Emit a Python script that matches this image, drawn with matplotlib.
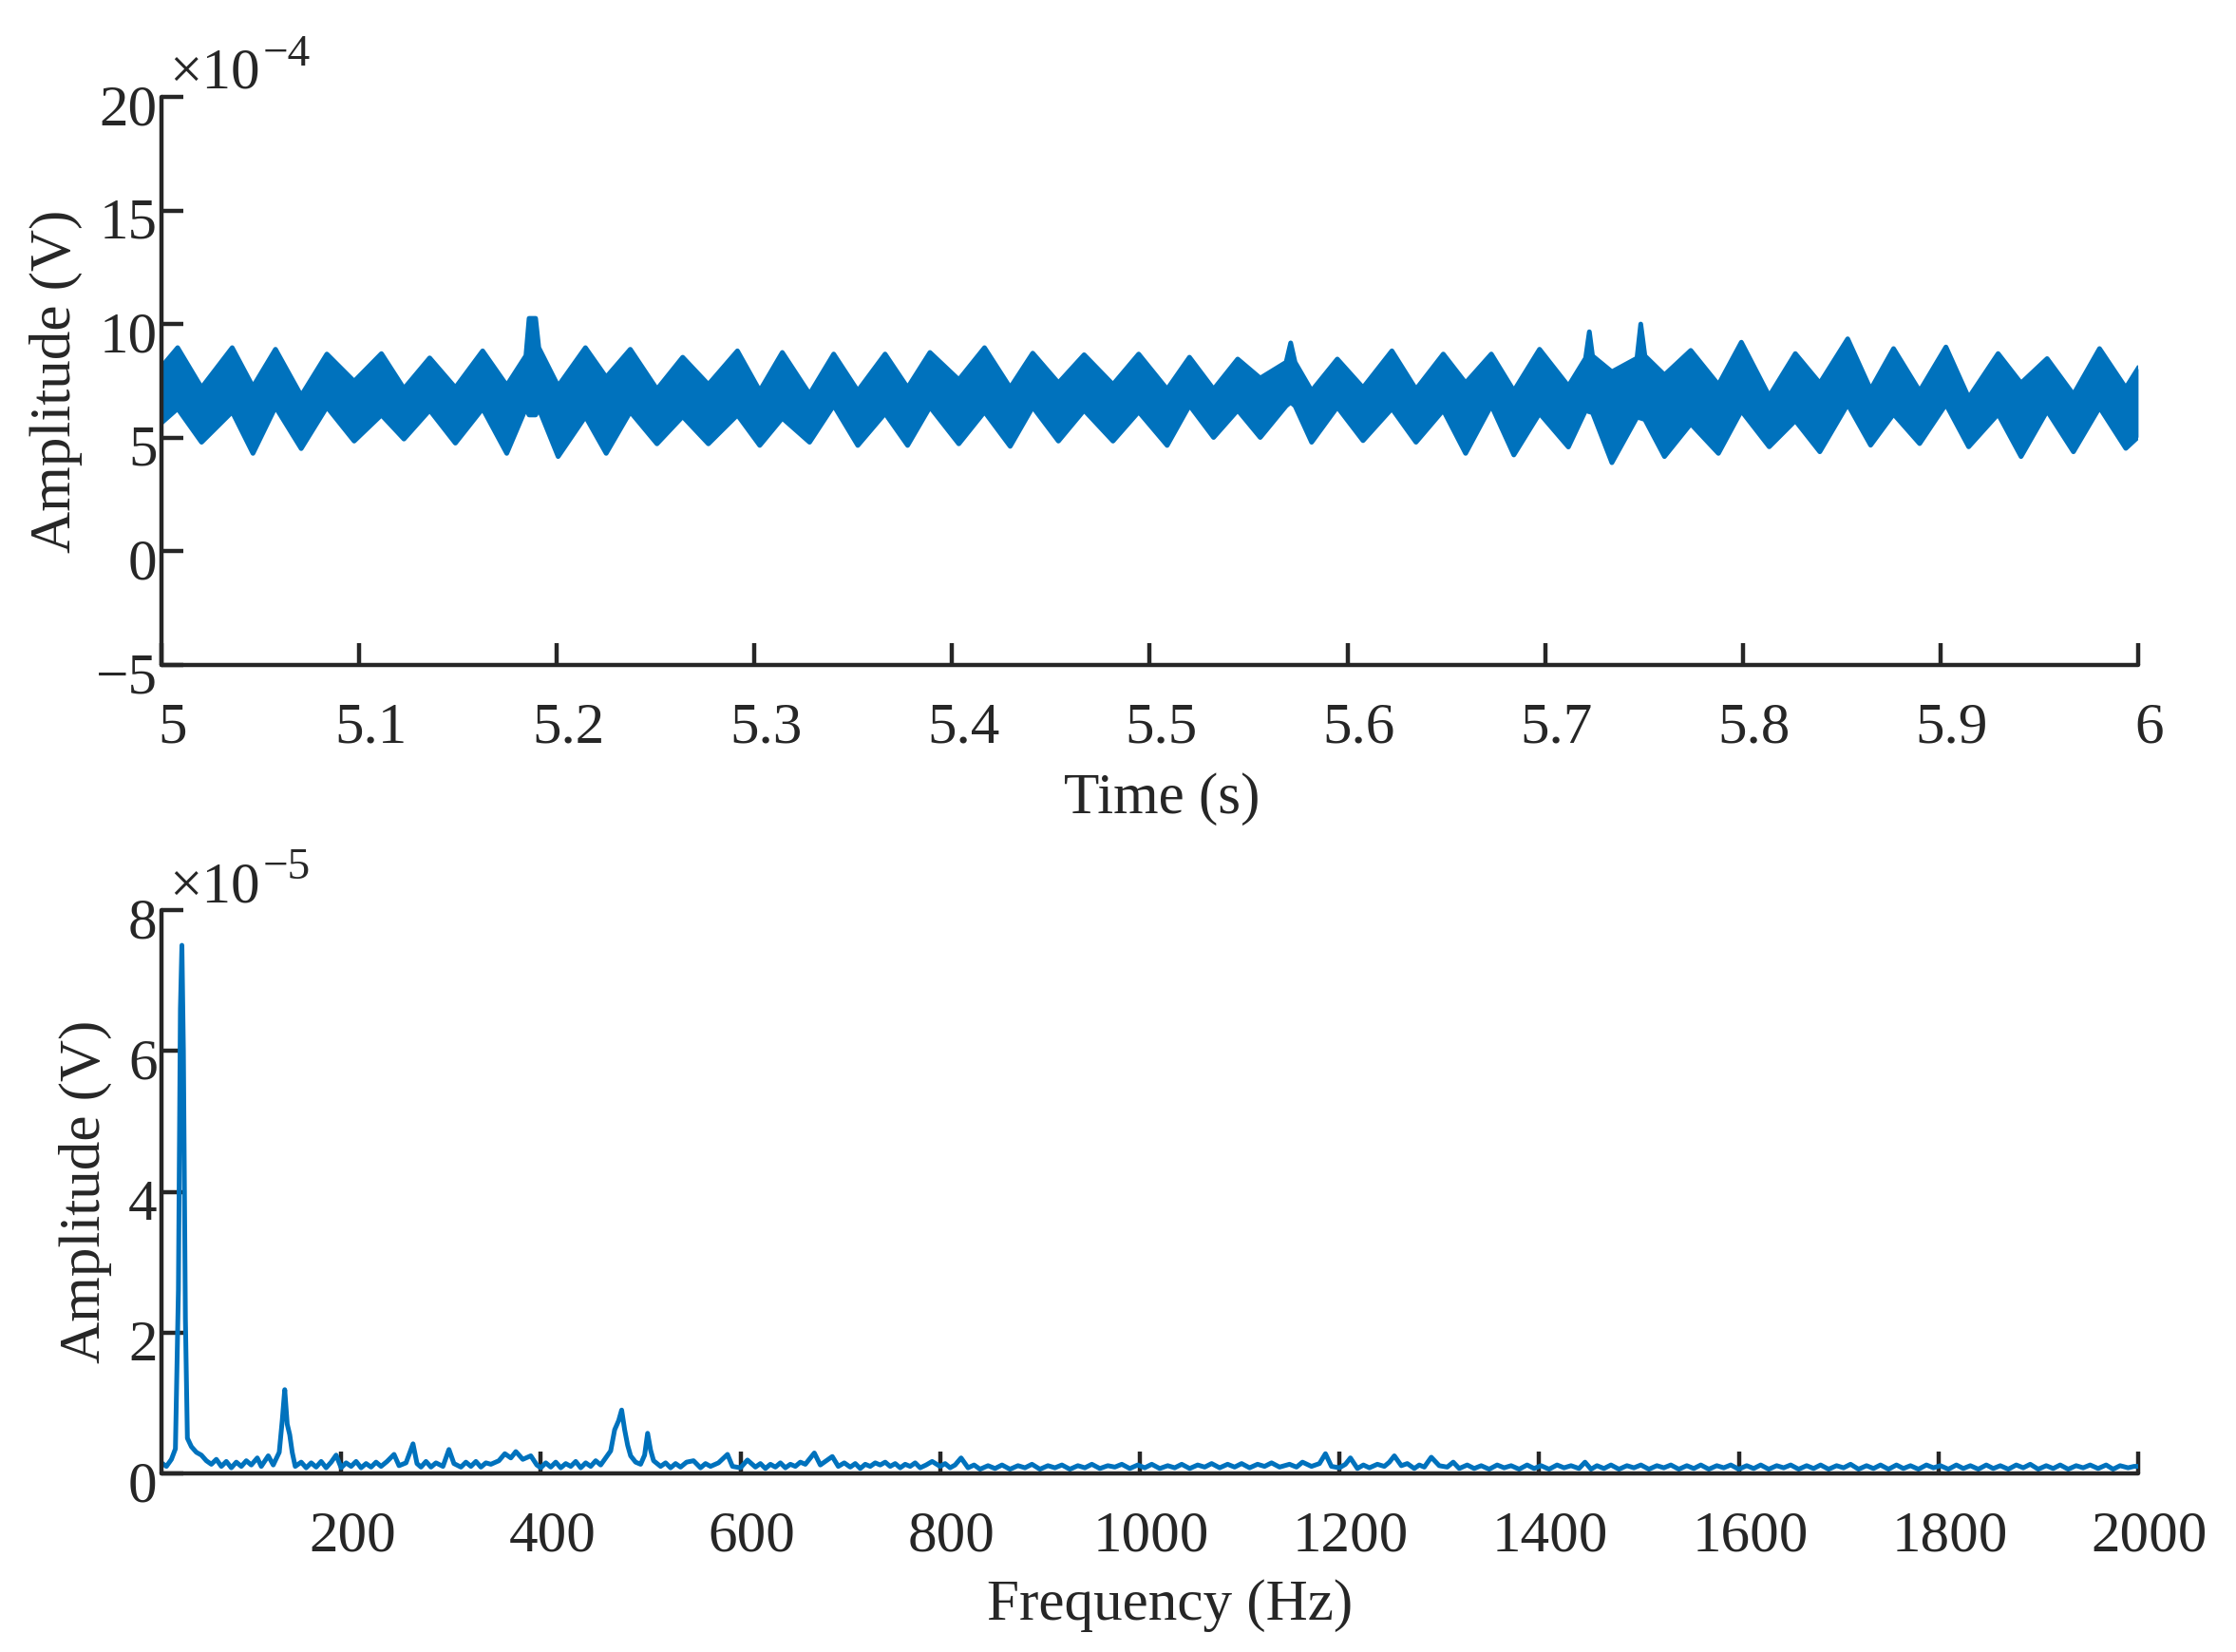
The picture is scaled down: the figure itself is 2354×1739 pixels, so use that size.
import matplotlib
matplotlib.use("Agg")
import matplotlib.pyplot as plt
from matplotlib.transforms import ScaledTranslation

# Top: time signal, band (units of 1e-4 V)
# time (s), upper edge, lower edge of the plotted band
t_s = [5.0000, 5.0082, 5.0203, 5.0358, 5.0463, 5.0577, 5.0707, 5.0837, 5.0975, 5.1113,
       5.1227, 5.1357, 5.1487, 5.1625, 5.1747, 5.1844, 5.1860, 5.1893, 5.1909, 5.2007,
       5.2145, 5.2250, 5.2372,
       5.2507, 5.2637, 5.2767, 5.2914, 5.3027, 5.3141, 5.3279, 5.3401, 5.3523, 5.3661,
       5.3775, 5.3888, 5.4034, 5.4164, 5.4294, 5.4408, 5.4538, 5.4668, 5.4814, 5.4944,
       5.5088, 5.5201, 5.5323, 5.5445, 5.5559, 5.5690, 5.5713, 5.5735, 5.5819, 5.5949,
       5.6079, 5.6225, 5.6347, 5.6485, 5.6598, 5.6728, 5.6842, 5.6972, 5.7118, 5.7205,
       5.7224, 5.7240, 5.7338, 5.7465, 5.7484, 5.7505,
       5.7604, 5.7737, 5.7877, 5.7993, 5.8134, 5.8266, 5.8390, 5.8531, 5.8647, 5.8763,
       5.8895, 5.9028, 5.9143, 5.9292, 5.9408, 5.9540, 5.9673, 5.9805, 5.9938, 6.0000]
upper_e4 = [8.11, 8.96, 7.20, 8.96, 7.24, 8.89, 6.85, 8.68, 7.48, 8.70,
            7.16, 8.51, 7.20, 8.82, 7.30, 8.61, 10.25, 10.25, 8.96, 7.27,
            8.96, 7.66, 8.89,
            7.13, 8.54, 7.34, 8.82, 7.06, 8.75, 6.92, 8.68, 7.06, 8.68,
            7.20, 8.75, 7.55, 8.96, 7.20, 8.72, 7.41, 8.65, 7.34, 8.68,
            7.13, 8.54, 7.13, 8.46, 7.62, 8.32, 9.17, 8.32, 7.06, 8.46,
            7.20, 8.82, 7.13, 8.68, 7.41, 8.68, 7.06, 8.89, 7.27, 8.50,
            9.66, 8.60, 7.90, 8.50, 10.00, 8.60,
            7.76, 8.84, 7.33, 9.20, 6.83, 8.70, 7.40, 9.35, 7.12, 8.92,
            7.05, 8.99, 6.76, 8.70, 7.40, 8.48, 6.90, 8.92, 7.19, 8.05]
lower_e4 = [5.65, 6.28, 4.80, 6.14, 4.31, 6.35, 4.52, 6.35, 4.85, 6.00,
            4.94, 6.21, 4.76, 6.28, 4.31, 6.30, 6.00, 6.00, 6.28, 4.17,
            5.93, 4.31, 6.14,
            4.73, 5.93, 4.73, 6.00, 4.66, 5.86, 4.80, 6.42, 4.66, 6.07,
            4.66, 6.35, 4.73, 6.14, 4.62, 6.35, 4.85, 6.21, 4.85, 6.14,
            4.66, 6.42, 5.01, 6.21, 5.01, 6.40, 6.56, 6.40, 4.80, 6.35,
            4.87, 6.28, 4.80, 6.21, 4.31, 6.42, 4.24, 6.07, 4.59, 6.20,
            6.14, 6.10, 3.90, 5.90, 5.86, 5.80,
            4.17, 5.61, 4.31, 6.18, 4.60, 5.75, 4.38, 6.47, 4.67, 6.04,
            4.74, 6.47, 4.60, 6.04, 4.17, 6.18, 4.38, 6.33, 4.53, 5.03]

# Bottom: spectrum, (frequency Hz, amplitude in 1e-5 V)
spectrum_pts = [
    (20, .15), (25, .10), (30, .20), (34, .35), (37, 2.6), (39, 6.6), (40.5, 7.5), (42, 6.0),
    (44, 2.2), (46, .50), (50, .38), (55, .30), (60, .26), (65, .18), (70, .13), (75, .20),
    (80, .10), (85, .17), (90, .08), (95, .16), (100, .10), (105, .18), (110, .12), (116, .22),
    (120, .10), (127, .25), (132, .12), (138, .30), (141, .75), (143.5, 1.19), (146, .70),
    (148.5, .55), (151, .30), (154, .10), (160, .16), (165, .08), (170, .15), (175, .09),
    (180, .17), (185, .08), (190, .16), (195, .26), (200, .08), (205, .15), (210, .10),
    (215, .17), (220, .08), (225, .14), (230, .09), (235, .16), (240, .10), (246, .17),
    (253, .27), (258, .11), (265, .15), (272, .42), (276, .14), (280, .09), (285, .17),
    (290, .09), (295, .15), (302, .10), (308, .34), (313, .14), (320, .09), (325, .16),
    (330, .10), (335, .17), (340, .09), (345, .15), (350, .13), (358, .18), (364, .28),
    (370, .22), (375, .31), (382, .20), (390, .25), (396, .12), (400, .08), (405, .15),
    (410, .09), (415, .16), (420, .08), (425, .14), (430, .10), (435, .17), (440, .08),
    (445, .15), (450, .10), (455, .18), (460, .12), (465, .22), (470, .32), (474, .62),
    (478, .75), (481, .90), (484, .62), (487, .40), (490, .25), (495, .16), (500, .13),
    (504, .26), (507, .57), (510, .33), (513, .18), (520, .10), (525, .15), (530, .08),
    (535, .14), (540, .09), (546, .16), (553, .18), (560, .08), (565, .14), (570, .10),
    (578, .15), (587, .27), (592, .10), (600, .08), (607, .19), (615, .09), (620, .14),
    (625, .07), (630, .13), (635, .09), (640, .15), (645, .08), (650, .13), (655, .10),
    (660, .16), (665, .13), (674, .29), (680, .12), (686, .18), (692, .24), (698, .10),
    (704, .15), (710, .09), (715, .14), (720, .07), (725, .13), (730, .10), (735, .15),
    (740, .12), (745, .16), (750, .10), (755, .14), (760, .08), (765, .13), (770, .10),
    (775, .15), (780, .08), (786, .12), (792, .17), (800, .10), (805, .14), (810, .08),
    (815, .12), (821, .22), (828, .08), (834, .12), (840, .06), (848, .11), (855, .07),
    (862, .12), (870, .06), (878, .11), (885, .08), (892, .13), (900, .06), (908, .11),
    (915, .08), (922, .12), (930, .06), (938, .11), (945, .08), (952, .13), (960, .07),
    (968, .11), (975, .09), (982, .13), (990, .07), (998, .12), (1005, .08), (1012, .13),
    (1020, .07), (1028, .11), (1035, .08), (1042, .13), (1050, .07), (1058, .12),
    (1065, .09), (1072, .14), (1080, .08), (1088, .13), (1095, .09), (1102, .14),
    (1110, .08), (1118, .13), (1125, .10), (1132, .15), (1140, .09), (1150, .13),
    (1157, .09), (1163, .16), (1172, .10), (1180, .14), (1186, .28), (1192, .10),
    (1200, .08), (1206, .13), (1211, .22), (1218, .07), (1224, .12), (1230, .08),
    (1238, .13), (1245, .10), (1250, .16), (1255, .25), (1262, .11), (1268, .14),
    (1275, .07), (1280, .12), (1285, .09), (1292, .23), (1300, .11), (1308, .09),
    (1314, .16), (1320, .07), (1328, .12), (1335, .07), (1342, .11), (1350, .06),
    (1358, .12), (1365, .08), (1372, .11), (1380, .06), (1388, .12), (1395, .07),
    (1402, .11), (1410, .06), (1418, .12), (1425, .08), (1432, .11), (1440, .07),
    (1446, .16), (1452, .06), (1458, .11), (1465, .07), (1472, .12), (1480, .06),
    (1488, .11), (1495, .08), (1502, .12), (1510, .06), (1518, .11), (1525, .08),
    (1532, .12), (1540, .06), (1548, .11), (1555, .07), (1562, .12), (1570, .06),
    (1578, .11), (1585, .08), (1592, .12), (1600, .06), (1608, .11), (1615, .07),
    (1622, .12), (1630, .06), (1638, .11), (1645, .08), (1652, .12), (1660, .06),
    (1668, .11), (1675, .07), (1682, .12), (1690, .06), (1698, .11), (1705, .08),
    (1712, .13), (1720, .06), (1728, .11), (1735, .07), (1742, .12), (1750, .06),
    (1758, .12), (1765, .07), (1772, .11), (1780, .06), (1788, .12), (1795, .08),
    (1802, .11), (1810, .06), (1818, .12), (1825, .07), (1832, .11), (1840, .06),
    (1848, .12), (1855, .07), (1862, .11), (1870, .06), (1878, .12), (1885, .08),
    (1892, .13), (1900, .06), (1908, .11), (1915, .07), (1922, .12), (1930, .06),
    (1938, .11), (1945, .08), (1952, .12), (1960, .07), (1968, .12), (1975, .06),
    (1982, .11), (1990, .08), (1996, .10), (2000, .10),
]
freq_hz = [p[0] for p in spectrum_pts]
amp_e5 = [p[1] for p in spectrum_pts]

blue = '#0072BD'
dark = '#262626'

plt.rcParams['font.family'] = ['Liberation Serif', 'DejaVu Serif']
plt.rcParams['font.size'] = 22
plt.rcParams['text.color'] = dark
plt.rcParams['axes.labelcolor'] = dark

fig = plt.figure(figsize=(11.77, 8.695), dpi=200)
ax1 = fig.add_axes([0.0722, 0.5975, 0.8840, 0.3439])
ax2 = fig.add_axes([0.0722, 0.1081, 0.8840, 0.3410])


def style(ax):
    for s in ['top', 'right']:
        ax.spines[s].set_visible(False)
    for s in ['left', 'bottom']:
        ax.spines[s].set_linewidth(1.6)
        ax.spines[s].set_color(dark)
        ax.spines[s].set_capstyle('round')
    ax.tick_params(direction='in', length=8.3, width=1.6, color=dark,
                   labelcolor=dark, labelsize=22)
    ax.tick_params(axis='x', pad=14)
    ax.tick_params(axis='y', pad=3)
    # labels in the reference sit a little right / below their ticks
    for lab in ax.get_xticklabels():
        lab.set_transform(lab.get_transform() + ScaledTranslation(12 / 200, 0, fig.dpi_scale_trans))
    for lab in ax.get_yticklabels():
        lab.set_transform(lab.get_transform() + ScaledTranslation(4 / 200, -8 / 200, fig.dpi_scale_trans))


def exponent(ax, power, y):
    base = ax.text(0.004, y, '×10', transform=ax.transAxes,
                   ha='left', va='baseline', fontsize=22, color=dark)
    ax.annotate(power, xy=(1.0, 0.66), xycoords=base, xytext=(1, 0),
                textcoords='offset points', ha='left', va='baseline',
                fontsize=17, color=dark)


# top panel
ax1.fill_between(t_s, lower_e4, upper_e4, color=blue, linewidth=0)
ax1.plot(t_s, upper_e4, color=blue, lw=1.8, solid_joinstyle='round')
ax1.plot(t_s, lower_e4, color=blue, lw=1.8, solid_joinstyle='round')
ax1.set_xlim(5, 6)
ax1.set_ylim(-5, 20)
ax1.set_xticks([5, 5.1, 5.2, 5.3, 5.4, 5.5, 5.6, 5.7, 5.8, 5.9, 6])
ax1.set_xticklabels(['5', '5.1', '5.2', '5.3', '5.4', '5.5', '5.6', '5.7', '5.8', '5.9', '6'])
ax1.set_yticks([-5, 0, 5, 10, 15, 20])
ax1.set_xlabel('Time (s)')
ax1.set_ylabel('Amplitude (V)')
ax1.xaxis.set_label_coords(0.506, -0.189)
ax1.yaxis.set_label_coords(-0.040, 0.5)
exponent(ax1, '−4', 1.015)
style(ax1)

# bottom panel
ax2.plot(freq_hz, amp_e5, color=blue, lw=1.8, solid_joinstyle='round')
ax2.set_xlim(20, 2000)
ax2.set_ylim(0, 8)
ax2.set_xticks(range(200, 2001, 200))
ax2.set_yticks([0, 2, 4, 6, 8])
ax2.set_xlabel('Frequency (Hz)')
ax2.set_ylabel('Amplitude (V)')
ax2.xaxis.set_label_coords(0.51, -0.188)
ax2.yaxis.set_label_coords(-0.025, 0.5)
exponent(ax2, '−5', 1.015)
style(ax2)

fig.savefig('out.png', dpi=200)
